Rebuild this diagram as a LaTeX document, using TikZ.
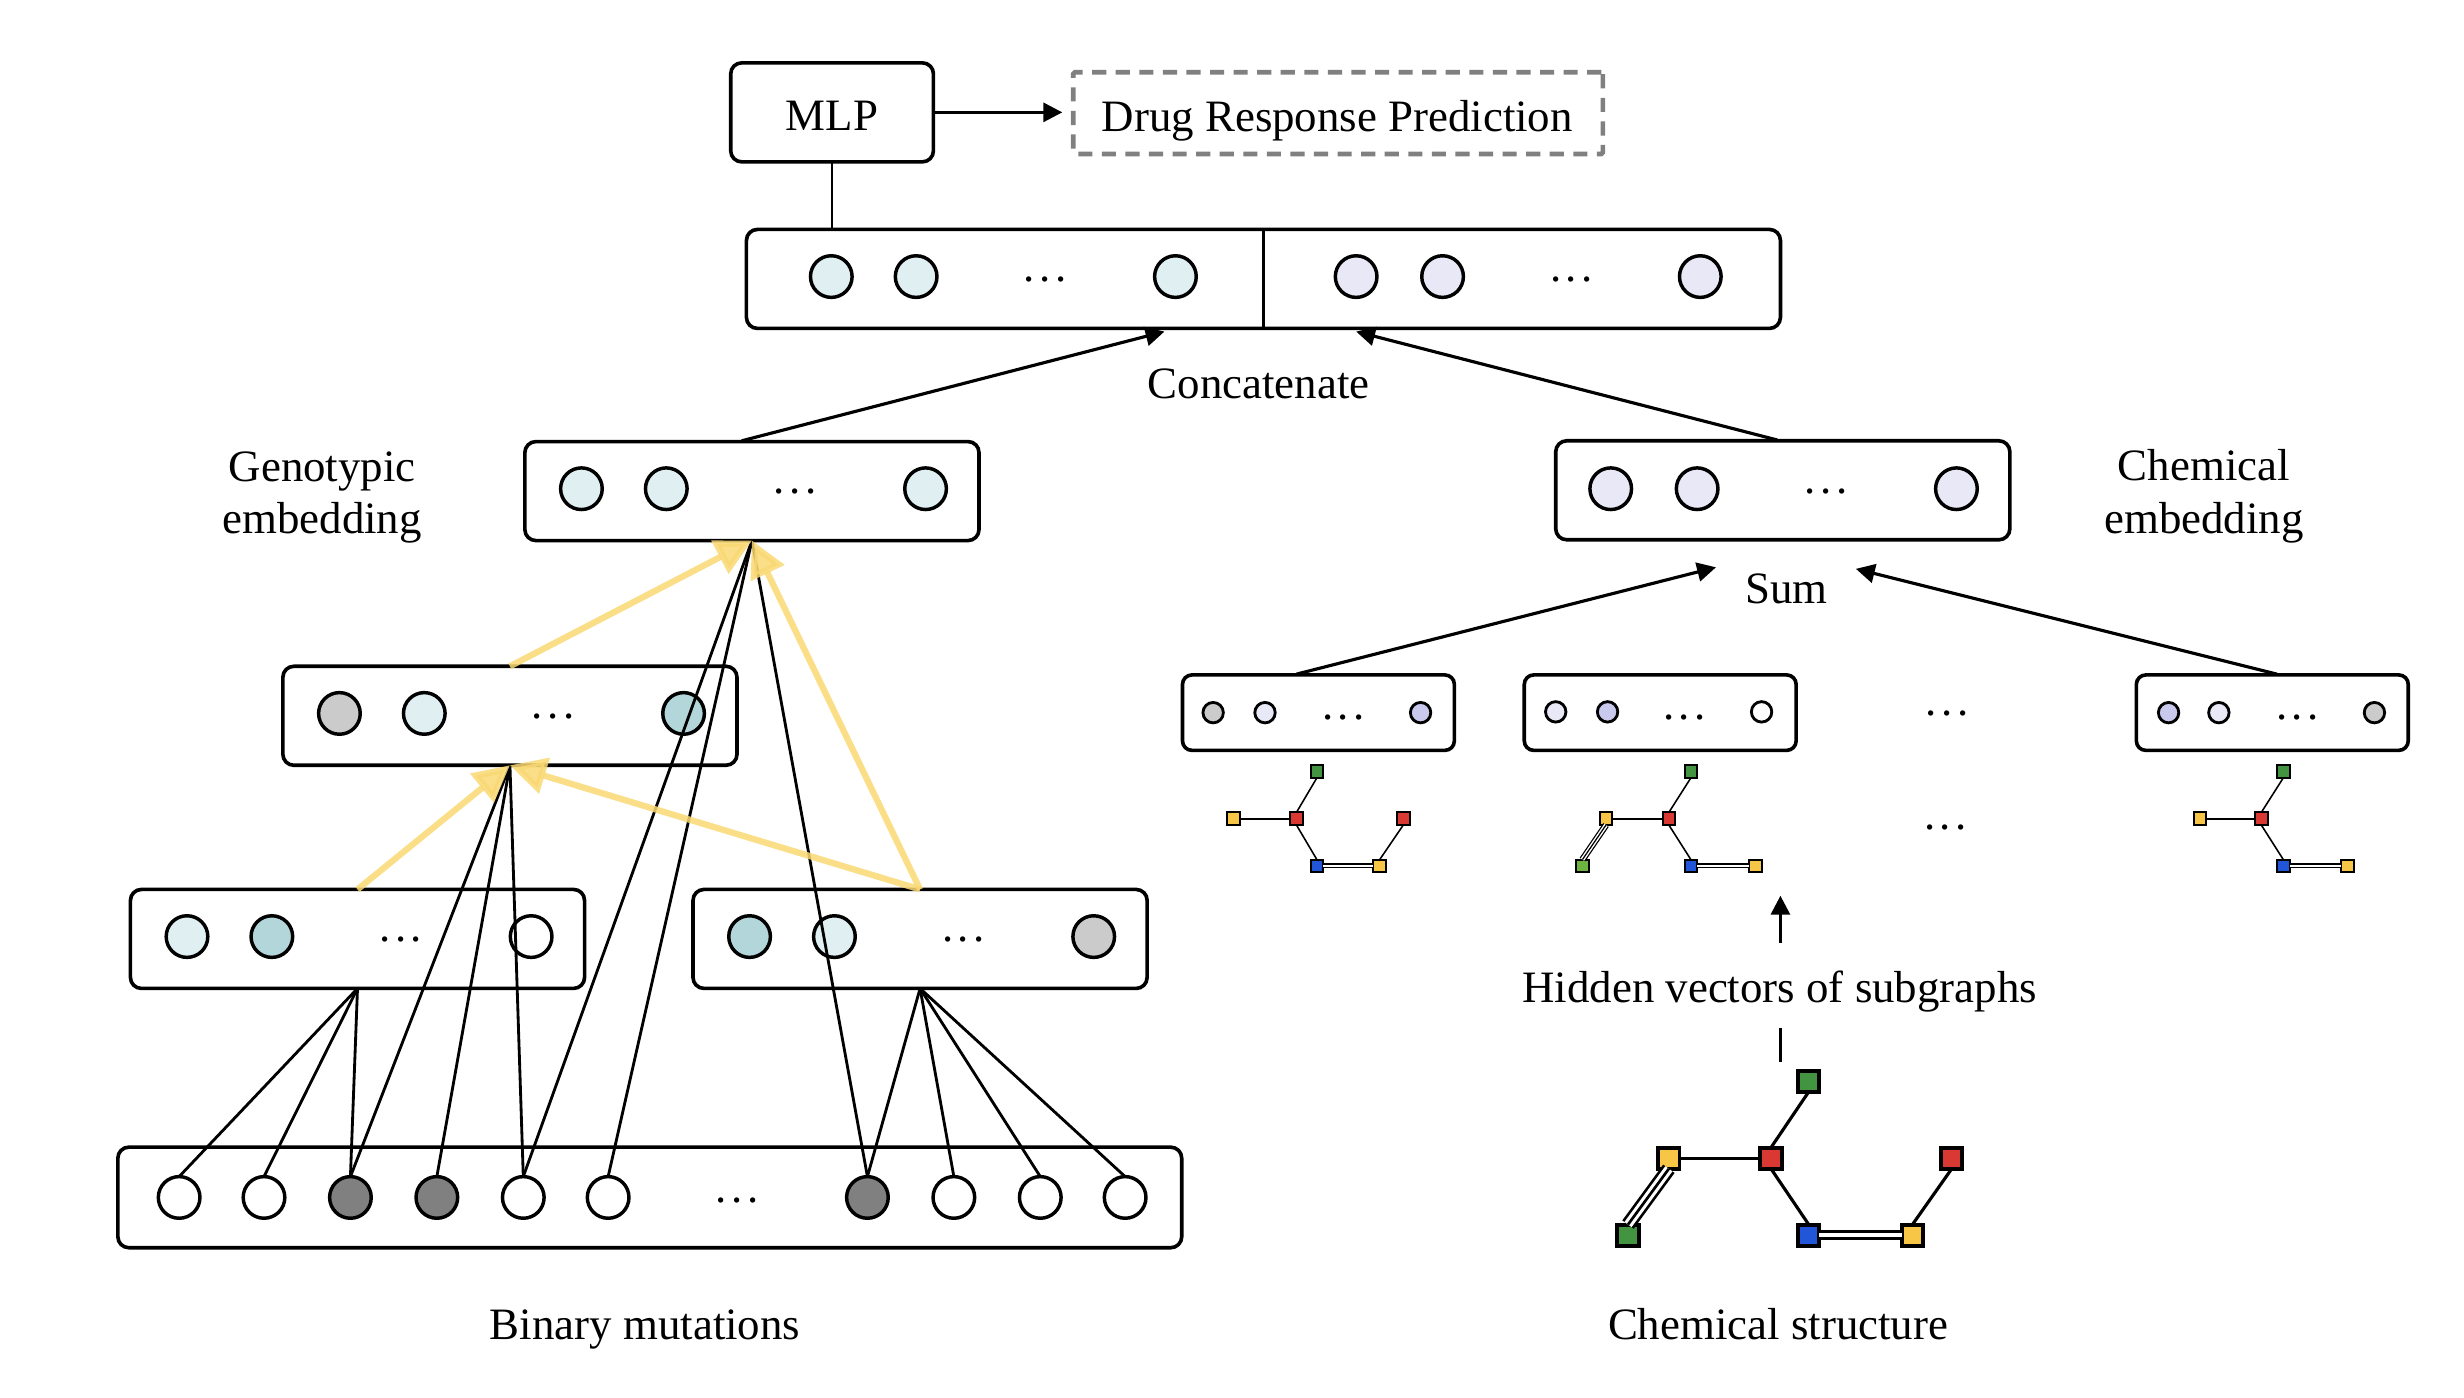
\documentclass[tikz,border=0pt]{standalone}
\usepackage{fontspec}
\setmainfont{Liberation Serif}
\usetikzlibrary{arrows.meta}
\def\uu{0.47143mm}
\definecolor{teal1}{HTML}{E0EFF2}
\definecolor{teal2}{HTML}{B2D6DA}
\definecolor{lav1}{HTML}{E8E8F7}
\definecolor{lav2}{HTML}{C9C9EE}
\definecolor{gr1}{HTML}{CBCBCB}
\definecolor{gr2}{HTML}{808080}
\definecolor{cgreen}{HTML}{429441}
\definecolor{clime}{HTML}{6CB33F}
\definecolor{cyellow}{HTML}{F7C646}
\definecolor{cred}{HTML}{DA3832}
\definecolor{cblue}{HTML}{2156D9}
\definecolor{gold}{HTML}{F9D873}
\tikzset{
  x=\uu,y=-\uu,
  every node/.style={font=\fontsize{38.3}{46}\selectfont, outer sep=0pt},
  rbox/.style={draw,line width=2.3*\uu,rounded corners=7*\uu,inner sep=0pt,minimum width=#1*\uu,minimum height=63*\uu},
  sbox/.style={draw,line width=2.3*\uu,rounded corners=6*\uu,inner sep=0pt,minimum width=173*\uu,minimum height=48*\uu},
  dashbox/.style={draw=gr2,line width=3*\uu,dash pattern=on 9*\uu off 6*\uu,rounded corners=1*\uu,inner sep=0pt,minimum width=337*\uu,minimum height=52*\uu},
  cir/.style={circle,draw,line width=2.2*\uu,inner sep=0pt,minimum size=26.5*\uu},
  scir/.style={circle,draw,line width=1.8*\uu,inner sep=0pt,minimum size=13*\uu},
  dotsn/.style={anchor=base,inner sep=0pt},
  lbl/.style={align=center,inner sep=0pt},
  blk/.style={line width=1.8*\uu},
  arr/.style={line width=2*\uu,-{Triangle[length=12*\uu,width=12*\uu]}},
  yel/.style={draw=gold,fill=gold,line width=4*\uu,opacity=.85,-{Triangle[length=23*\uu,width=23*\uu]}},
  sq/.style={rectangle,draw,line width=2.5*\uu,inner sep=0pt,minimum size=13.5*\uu},
  ssq/.style={rectangle,draw,line width=1.3*\uu,inner sep=0pt,minimum size=8*\uu},
  bond/.style={line width=2*\uu},
  dbond/.style={line width=2*\uu,double,double distance=2.2*\uu},
  tbond/.style={line width=1.7*\uu,double,double distance=5.6*\uu},
  tmid/.style={line width=1.7*\uu},
  sbond/.style={line width=1*\uu},
  sdbond/.style={line width=1*\uu,double,double distance=1.2*\uu},
  stbond/.style={line width=.8*\uu,double,double distance=2.6*\uu},
  stmid/.style={line width=.8*\uu},
}
\newcommand{\mydots}{.\kern 3.8pt.\kern 3.8pt.}
\begin{document}
\begin{tikzpicture}
\useasboundingbox (0,0) rectangle (1568,889.6);
% boxes
\node[rbox=129] (mlp) at (529.5,71.5) {};
\node[dashbox] (drp) at (851.5,72) {};
\node[rbox=658] (concat) at (804,177.5) {};
\node[rbox=289] (gen) at (478.5,312.5) {};
\node[rbox=289] (chem) at (1134.5,312) {};
\node[rbox=289] (mid) at (324.5,455.5) {};
\node[rbox=289] (left) at (227.5,597.5) {};
\node[rbox=289] (right) at (585.5,597.5) {};
\node[rbox=677,minimum height=64*\uu] (bot) at (413.5,762) {};
\node[sbox] (s1) at (839,453.5) {};
\node[sbox] (s2) at (1056.5,453.5) {};
\node[sbox] (s3) at (1446,453.5) {};
% circles
\foreach \n/\x/\c in {1/529/teal1,2/583/teal1,3/748/teal1,4/863/lav1,5/918/lav1,6/1082/lav1}
  \node[cir,fill=\c] (t\n) at (\x,176) {};
\foreach \n/\x/\c in {1/370/teal1,2/424/teal1,3/589/teal1}
  \node[cir,fill=\c] (g\n) at (\x,311) {};
\foreach \n/\x/\c in {1/1025/lav1,2/1080/lav1,3/1245/lav1}
  \node[cir,fill=\c] (c\n) at (\x,311) {};
\foreach \n/\x/\c in {1/216/gr1,2/270/teal1,3/435/teal2}
  \node[cir,fill=\c] (m\n) at (\x,454) {};
\foreach \n/\x/\c in {1/119/teal1,2/173/teal2,3/338/white}
  \node[cir,fill=\c] (l\n) at (\x,596) {};
\foreach \n/\x/\c in {1/477/teal2,2/531/teal1,3/696/gr1}
  \node[cir,fill=\c] (r\n) at (\x,596) {};
\foreach \n/\x/\c in {1/114/white,2/168/white,3/223/gr2,4/278/gr2,5/333/white,6/387/white,7/552/gr2,8/607/white,9/662/white,10/716/white}
  \node[cir,fill=\c] (b\n) at (\x,762) {};
\foreach \n/\x/\c in {1/772/gr1,2/805/lav1,3/904/lav2}
  \node[scir,fill=\c] (sa\n) at (\x,453.5) {};
\foreach \n/\x/\c in {1/990/lav1,2/1023/lav2,3/1121/white}
  \node[scir,fill=\c] (sb\n) at (\x,453) {};
\foreach \n/\x/\c in {1/1380/lav2,2/1412/lav1,3/1511/gr1}
  \node[scir,fill=\c] (sc\n) at (\x,453.5) {};
% dots
\foreach \n/\x/\y in {a/665/179,b/1000/179,c/506/314,d/1162/314,e/352/457,f/255/599,g/613/599,h/469/765,i/855/458,j/1072/458,k/1462/458,l/1239/455,m/1238/528}
  \node[dotsn] (dots\n) at (\x,\y) {\mydots};
% divider
\draw[blk] (concat.north) -- (concat.south);
% labels
\node[lbl] (lmlp) at (529.5,73.5) {MLP};
\node[lbl] (ldrp) at (851,77) {Drug Response Prediction};
\node[lbl] (lconcat) at (801,244) {Concatenate};
\node[lbl] (lgen) at (205,316.5) {Genotypic\\[-1pt]embedding};
\node[lbl] (lchem) at (1402.5,316) {Chemical\\[-1pt]embedding};
\node[lbl] (lsum) at (1137,375) {Sum};
\node[lbl] (lhid) at (1132.5,631) {Hidden vectors of subgraphs};
\node[lbl] (lstruct) at (1131.5,842.5) {Chemical structure};
\node[lbl] (lbin) at (410.5,846) {Binary mutations};
% named free ends
\coordinate (ca) at (741,211);
\coordinate (cb) at (863,211);
\coordinate (ga) at (472,280.5);
\coordinate (cha) at (1131,280);
\coordinate (su1) at (1092,361);
\coordinate (su2) at (1181,362);
\coordinate (s1t) at (825,429);
\coordinate (s3t) at (1449,429);
\coordinate (h1) at (1133,600);
\coordinate (h2) at (1133,570);
\coordinate (h3) at (1133,654);
\coordinate (h4) at (1133,676);
% connectors
\draw[blk] (mlp.south) -- (mlp.south |- concat.north);
\draw[arr] (mlp.east) -- ++(82,0) coordinate (mlpend);
\draw[arr] (ga) -- (ca);
\draw[arr] (cha) -- (cb);
\draw[arr] (s1t) -- (su1);
\draw[arr] (s3t) -- (su2);
\draw[arr] (h1) -- (h2);
\draw[blk] (h3) -- (h4);
% black thin lines
\foreach \t in {1,2,3} \draw[blk] (left.south) -- (b\t.north);
\foreach \t in {7,8,9,10} \draw[blk] (right.south) -- (b\t.north);
\foreach \t in {3,4,5} \draw[blk] (mid.south) -- (b\t.north);
\foreach \t in {5,6,7} \draw[blk] (gen.south) -- (b\t.north);
% yellow arrows
\draw[yel] (mid.north) -- (gen.south);
\draw[yel] (right.north) -- (gen.south);
\draw[yel] (left.north) -- (mid.south);
\draw[yel] (right.north) -- (mid.south);
% big structure
\node[sq,fill=cgreen] (A1) at (1151,688) {};
\node[sq,fill=cyellow] (A2) at (1062,737) {};
\node[sq,fill=cred] (A3) at (1127,737) {};
\node[sq,fill=cred] (A4) at (1242,737) {};
\node[sq,fill=cgreen] (A5) at (1036,786) {};
\node[sq,fill=cblue] (A6) at (1151,786) {};
\node[sq,fill=cyellow] (A7) at (1217,786) {};
\draw[bond] (A1.south) -- (A3.north);
\draw[bond] (A2) -- (A3);
\draw[bond] (A3.south) -- (A6.north);
\draw[bond] (A4.south) -- (A7.north);
\draw[dbond] (A6) -- (A7);
\draw[tbond] (A2.south) -- (A5.north);
\draw[tmid] (A2.south) -- (A5.north);
% small structure 1
\node[ssq,fill=cgreen] (B1) at (838,491) {};
\node[ssq,fill=cyellow] (B2) at (785,521) {};
\node[ssq,fill=cred] (B3) at (825,521) {};
\node[ssq,fill=cred] (B4) at (893,521) {};
\node[ssq,fill=cblue] (B6) at (838,551) {};
\node[ssq,fill=cyellow] (B7) at (878,551) {};
\draw[sbond] (B1.south) -- (B3.north);
\draw[sbond] (B2) -- (B3);
\draw[sbond] (B3.south) -- (B6.north);
\draw[sbond] (B4.south) -- (B7.north);
\draw[sdbond] (B6) -- (B7);
% small structure 2
\node[ssq,fill=cgreen] (C1) at (1076,491) {};
\node[ssq,fill=cyellow] (C2) at (1022,521) {};
\node[ssq,fill=cred] (C3) at (1062,521) {};
\node[ssq,fill=clime] (C5) at (1007,551) {};
\node[ssq,fill=cblue] (C6) at (1076,551) {};
\node[ssq,fill=cyellow] (C7) at (1117,551) {};
\draw[sbond] (C1.south) -- (C3.north);
\draw[sbond] (C2) -- (C3);
\draw[sbond] (C3.south) -- (C6.north);
\draw[sdbond] (C6) -- (C7);
\draw[stbond] (C2.south) -- (C5.north);
\draw[stmid] (C2.south) -- (C5.north);
% small structure 3
\node[ssq,fill=cgreen] (D1) at (1453,491) {};
\node[ssq,fill=cyellow] (D2) at (1400,521) {};
\node[ssq,fill=cred] (D3) at (1439,521) {};
\node[ssq,fill=cblue] (D6) at (1453,551) {};
\node[ssq,fill=cyellow] (D7) at (1494,551) {};
\draw[sbond] (D1.south) -- (D3.north);
\draw[sbond] (D2) -- (D3);
\draw[sbond] (D3.south) -- (D6.north);
\draw[sdbond] (D6) -- (D7);
\end{tikzpicture}
\end{document}
